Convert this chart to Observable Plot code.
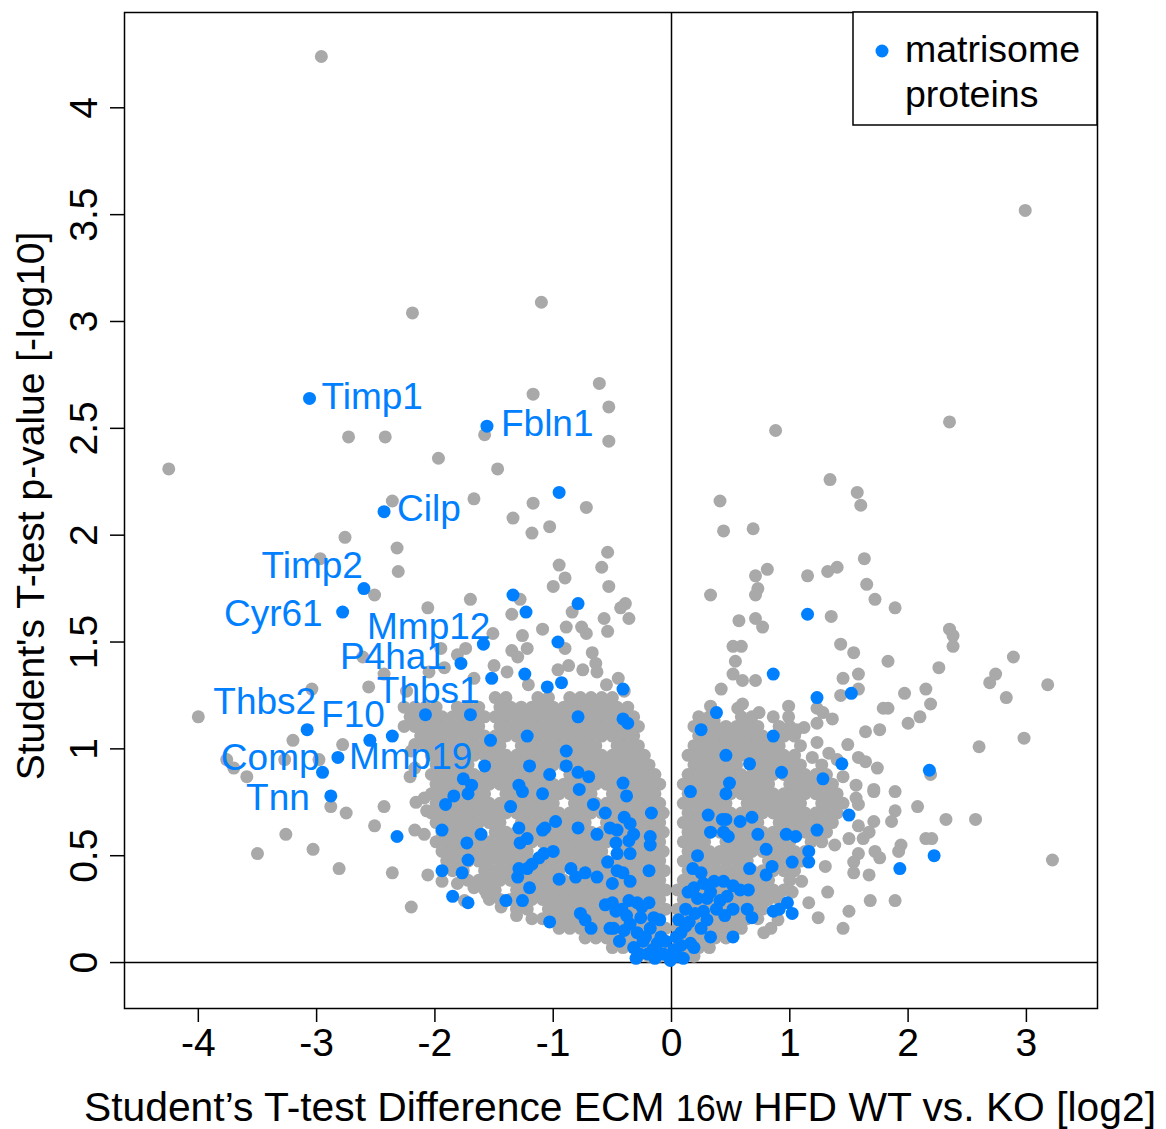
<!DOCTYPE html>
<html>
<head>
<meta charset="utf-8">
<script src="https://cdn.jsdelivr.net/npm/d3@7"></script>
<script src="https://cdn.jsdelivr.net/npm/@observablehq/plot@0.6"></script>
<style>
  html, body { margin: 0; padding: 0; background: #fff; }
  #chart svg { display: block; }
</style>
</head>
<body>
<div id="chart"></div>
<script>
// ---- Volcano plot data: [difference (log2), -log10 p-value] ----

// Isolated proteins outside the two dense clouds
const greyScatter = [
  [-2.96,4.24],[-1.10,3.09],[-2.19,3.04],[2.99,3.52],[2.35,2.53],[0.88,2.49],[-4.25,2.31],
  [-2.73,2.46],[-2.42,2.46],[-1.97,2.36],[-1.17,2.66],[-0.61,2.71],[-0.53,2.60],[-0.53,2.44],
  [-1.58,2.47],[-1.47,2.31],[-1.67,2.17],[-2.36,2.16],[-1.17,2.15],[-0.72,2.13],[-1.34,2.08],
  [-1.03,2.04],[-1.18,2.01],[-2.76,1.99],[-2.32,1.94],[-2.31,1.83],[-2.97,1.89],[-2.51,1.72],
  [-2.06,1.66],[-1.70,1.70],[-0.54,1.92],[-0.95,1.86],[-0.59,1.85],[-0.90,1.80],[-1.00,1.76],
  [-0.53,1.76],[-1.28,1.70],[-1.35,1.63],[-0.84,1.64],[-0.39,1.68],[-0.43,1.66],[-0.36,1.61],
  [-0.57,1.61],[-0.54,1.55],[-1.09,1.56],[-0.89,1.57],[-0.76,1.57],[-0.72,1.54],[-1.51,1.54],
  [-1.26,1.53],[-0.90,1.47],[-0.67,1.45],[-1.35,1.46],[-1.22,1.47],[-1.30,1.43],[-1.74,1.47],
  [-1.81,1.44],[-1.95,1.47],[-1.50,1.39],[-1.39,1.36],[-0.96,1.37],[-0.87,1.39],[-0.75,1.37],
  [-0.64,1.40],[-0.63,1.36],[-0.45,1.33],[-2.61,1.43],[-2.43,1.35],[-2.05,1.36],[-1.92,1.38],
  [-1.67,1.33],[-1.21,1.30],[-0.55,1.30],[-0.40,1.27],[-2.24,1.27],
  [-3.04,1.28],[-2.56,1.29],[-4.00,1.15],[-3.20,1.04],[-3.76,0.95],[-3.70,0.91],[-3.59,0.87],
  [-3.27,0.95],[-2.98,0.95],[-2.78,1.02],[-2.88,0.73],[-2.75,0.70],[-2.43,0.73],[-2.51,0.64],
  [-3.26,0.60],[-3.50,0.51],[-3.03,0.53],[-2.81,0.44],[-2.36,0.42],[-2.20,0.26],[-2.06,0.41],
  [-2.16,0.75],[-2.21,0.87],[-2.17,1.02],[-2.20,0.99],[-2.17,0.91],[-2.09,0.77],
  [-2.07,0.71],[-2.17,0.62],[-2.09,0.60],[-1.94,0.38],[-1.81,0.37],
  [-1.67,0.35],[-1.56,0.32],[-1.75,0.29],[-1.31,0.22],[-1.44,0.26],
  [0.41,2.16],[0.44,2.02],[0.69,2.03],[1.34,2.26],[1.57,2.20],[1.60,2.14],[1.63,1.89],
  [0.81,1.84],[0.71,1.81],[0.73,1.75],[0.71,1.72],[1.15,1.81],[1.32,1.83],[1.40,1.85],
  [1.65,1.77],[1.72,1.70],[1.89,1.66],[0.33,1.72],[1.35,1.62],[0.57,1.60],[0.71,1.61],
  [0.77,1.57],[0.52,1.48],[0.59,1.48],[0.54,1.41],[1.43,1.49],[1.54,1.45],[1.83,1.41],
  [2.26,1.38],[2.35,1.56],[2.38,1.53],[2.38,1.48],[0.52,1.35],[0.60,1.32],[0.71,1.32],
  [0.42,1.28],[1.45,1.33],[1.58,1.35],[1.58,1.28],[1.43,1.25],[1.97,1.26],[2.15,1.28],
  [2.89,1.43],[2.74,1.35],[2.69,1.31],[3.18,1.30],[2.83,1.24],[2.19,1.21],[1.83,1.19],
  [1.79,1.19],[2.10,1.15],[2.00,1.12],[1.76,1.09],[1.64,1.08],[1.49,1.02],[2.60,1.01],
  [2.98,1.05],[1.58,0.96],[1.64,0.94],[1.74,0.91],[2.19,0.88],[1.45,0.87],[1.56,0.83],
  [1.71,0.81],[1.71,0.80],[1.89,0.80],[1.56,0.77],[1.58,0.74],[2.08,0.73],[1.89,0.71],
  [1.86,0.66],[1.71,0.66],[1.67,0.61],[2.32,0.67],[2.57,0.67],[1.58,0.64],[1.50,0.58],
  [1.62,0.58],[2.15,0.58],[2.20,0.58],[1.94,0.55],[1.92,0.52],[1.72,0.52],[1.76,0.49],
  [1.58,0.51],[1.54,0.47],[3.22,0.48],[1.54,0.42],[1.67,0.41],[1.38,0.55],[1.30,0.45],
  [1.50,0.24],[1.68,0.29],[1.89,0.29],[1.32,0.33],[1.24,0.21],[1.45,0.16],[1.16,0.28],
  [0.84,0.16],[0.78,0.14],[0.99,1.20],[0.99,1.15],[1.23,1.19],[1.28,1.17],[1.36,1.14],
  [1.23,1.12],[1.12,1.10],[1.06,1.09],[1.01,1.07],[0.60,1.21],[0.56,1.19],[0.74,1.17],
  [0.33,1.20],[0.36,1.13],[1.40,0.95],[1.33,0.98],[1.23,1.03],[1.19,0.96],[1.10,0.38],
  [1.02,0.33],[0.90,0.20]
];

// Dense cloud left of zero: [-log10 p, differences at that level]
const leftCloudRows = [
  [1.240, [-1.49,-1.40,-1.13,-1.04,-0.86,-0.77,-0.68,-0.59,-0.50]],
  [1.195, [-2.26,-2.17,-2.08,-1.99,-1.81,-1.72,-1.63,-1.45,-1.36,-1.27,-1.18,-1.09,-1.00,-0.91,-0.82,-0.73,-0.64,-0.55,-0.46,-0.37]],
  [1.150, [-2.21,-2.12,-2.03,-1.94,-1.85,-1.76,-1.67,-1.58,-1.49,-1.40,-1.31,-1.22,-1.13,-1.04,-0.95,-0.86,-0.77,-0.68,-0.59,-0.50,-0.41,-0.32]],
  [1.105, [-2.26,-2.17,-2.08,-1.99,-1.90,-1.81,-1.72,-1.63,-1.45,-1.36,-1.27,-1.18,-1.09,-1.00,-0.91,-0.82,-0.73,-0.64,-0.55,-0.46,-0.37,-0.28]],
  [1.060, [-2.12,-2.03,-1.94,-1.85,-1.76,-1.67,-1.58,-1.49,-1.40,-1.31,-1.22,-1.13,-1.04,-0.95,-0.86,-0.77,-0.68,-0.59,-0.50,-0.41,-0.32]],
  [1.015, [-2.08,-1.99,-1.90,-1.81,-1.72,-1.63,-1.54,-1.45,-1.27,-1.18,-1.09,-1.00,-0.91,-0.82,-0.73,-0.64,-0.46,-0.37,-0.28]],
  [0.970, [-2.03,-1.94,-1.85,-1.76,-1.67,-1.58,-1.49,-1.40,-1.31,-1.22,-1.13,-1.04,-0.95,-0.86,-0.77,-0.68,-0.59,-0.50,-0.41,-0.32,-0.23]],
  [0.925, [-1.99,-1.90,-1.81,-1.72,-1.54,-1.45,-1.36,-1.27,-1.18,-1.09,-1.00,-0.91,-0.82,-0.73,-0.64,-0.55,-0.46,-0.37,-0.28,-0.19]],
  [0.880, [-2.03,-1.94,-1.85,-1.76,-1.67,-1.58,-1.49,-1.40,-1.31,-1.22,-1.13,-1.04,-0.86,-0.77,-0.68,-0.59,-0.50,-0.41,-0.32,-0.23,-0.14]],
  [0.835, [-1.99,-1.90,-1.81,-1.72,-1.63,-1.54,-1.45,-1.36,-1.27,-1.18,-1.09,-1.00,-0.91,-0.82,-0.73,-0.64,-0.55,-0.46,-0.37,-0.28,-0.19,-0.10]],
  [0.790, [-2.03,-1.94,-1.85,-1.76,-1.67,-1.58,-1.40,-1.31,-1.22,-1.13,-1.04,-0.95,-0.86,-0.77,-0.68,-0.50,-0.41,-0.32,-0.23,-0.14]],
  [0.745, [-1.99,-1.90,-1.81,-1.72,-1.63,-1.54,-1.45,-1.36,-1.27,-1.18,-1.09,-1.00,-0.82,-0.73,-0.64,-0.55,-0.46,-0.37,-0.28,-0.19,-0.10]],
  [0.700, [-2.03,-1.94,-1.85,-1.76,-1.67,-1.58,-1.49,-1.40,-1.31,-1.22,-1.13,-1.04,-0.95,-0.86,-0.77,-0.68,-0.59,-0.50,-0.41,-0.32,-0.23,-0.14,-0.07]],
  [0.655, [-1.99,-1.90,-1.81,-1.72,-1.63,-1.54,-1.45,-1.27,-1.18,-1.09,-1.00,-0.91,-0.82,-0.73,-0.55,-0.46,-0.37,-0.28,-0.19,-0.10]],
  [0.610, [-1.94,-1.85,-1.76,-1.67,-1.49,-1.40,-1.31,-1.22,-1.13,-1.04,-0.95,-0.86,-0.77,-0.68,-0.59,-0.50,-0.41,-0.32,-0.23,-0.14,-0.07]],
  [0.565, [-1.99,-1.90,-1.81,-1.72,-1.63,-1.54,-1.45,-1.36,-1.27,-1.18,-1.09,-1.00,-0.91,-0.82,-0.73,-0.64,-0.55,-0.46,-0.37,-0.28,-0.19,-0.10]],
  [0.520, [-1.94,-1.85,-1.76,-1.67,-1.58,-1.49,-1.40,-1.31,-1.22,-1.04,-0.95,-0.86,-0.77,-0.68,-0.59,-0.41,-0.32,-0.23,-0.14,-0.07]],
  [0.475, [-1.90,-1.81,-1.72,-1.63,-1.54,-1.45,-1.36,-1.27,-1.18,-1.09,-1.00,-0.91,-0.82,-0.73,-0.64,-0.55,-0.46,-0.37,-0.28,-0.19,-0.10]],
  [0.430, [-1.85,-1.76,-1.58,-1.49,-1.40,-1.31,-1.22,-1.13,-1.04,-0.95,-0.77,-0.68,-0.59,-0.50,-0.41,-0.32,-0.23,-0.14,-0.06]],
  [0.385, [-1.72,-1.63,-1.54,-1.45,-1.36,-1.27,-1.18,-1.09,-1.00,-0.91,-0.82,-0.73,-0.64,-0.55,-0.46,-0.37,-0.28,-0.19,-0.10]],
  [0.340, [-1.58,-1.49,-1.31,-1.22,-1.13,-1.04,-0.95,-0.86,-0.77,-0.68,-0.59,-0.50,-0.41,-0.32,-0.23,-0.14,-0.05]],
  [0.295, [-1.54,-1.45,-1.36,-1.27,-1.18,-1.09,-1.00,-0.91,-0.82,-0.73,-0.64,-0.55,-0.46,-0.37,-0.28,-0.19,-0.10]],
  [0.250, [-1.31,-1.22,-1.04,-0.95,-0.86,-0.77,-0.68,-0.59,-0.50,-0.41,-0.32,-0.23,-0.14,-0.05]],
  [0.205, [-1.18,-1.09,-1.00,-0.91,-0.82,-0.73,-0.64,-0.55,-0.46,-0.37,-0.28,-0.19,-0.10]],
  [0.160, [-0.95,-0.86,-0.77,-0.68,-0.59,-0.50,-0.41,-0.32,-0.23,-0.14,-0.05]],
  [0.115, [-0.73,-0.64,-0.55,-0.46,-0.37,-0.28,-0.19,-0.10]],
  [0.070, [-0.50,-0.41,-0.32,-0.23,-0.14,-0.05]],
  [0.030, [-0.28,-0.19,-0.10,-0.03]]
];

// Dense cloud right of zero
const rightCloudRows = [
  [1.150, [0.23,0.32,0.59,0.68,0.86]],
  [1.105, [0.19,0.28,0.37,0.46,0.55,0.64,0.73,0.91,1.00]],
  [1.060, [0.23,0.32,0.41,0.50,0.59,0.68,0.77,0.95,1.04]],
  [1.015, [0.19,0.28,0.37,0.46,0.55,0.64,0.73,0.82,0.91,1.09]],
  [0.970, [0.14,0.23,0.32,0.41,0.50,0.59,0.68,0.77,0.86,0.95,1.04]],
  [0.925, [0.19,0.28,0.37,0.46,0.55,0.73,0.82,0.91,1.00,1.09,1.27]],
  [0.880, [0.14,0.23,0.32,0.41,0.50,0.59,0.68,0.77,0.86,0.95,1.04,1.13,1.22,1.31]],
  [0.835, [0.10,0.19,0.28,0.37,0.46,0.55,0.64,0.73,0.82,1.00,1.09,1.18,1.27,1.36]],
  [0.790, [0.14,0.23,0.32,0.41,0.50,0.59,0.68,0.77,0.86,0.95,1.04,1.13,1.22,1.31,1.40]],
  [0.745, [0.10,0.19,0.28,0.37,0.46,0.64,0.73,0.82,0.91,1.00,1.09,1.27,1.36,1.45]],
  [0.700, [0.14,0.23,0.32,0.41,0.50,0.59,0.68,0.77,0.86,0.95,1.04,1.13,1.22,1.31,1.40]],
  [0.655, [0.10,0.19,0.28,0.37,0.46,0.55,0.64,0.73,0.91,1.00,1.09,1.18,1.27,1.36]],
  [0.610, [0.14,0.23,0.32,0.41,0.50,0.59,0.68,0.77,0.86,0.95,1.04,1.13,1.22,1.31]],
  [0.565, [0.10,0.19,0.28,0.46,0.55,0.64,0.73,0.82,0.91,1.00,1.18,1.27]],
  [0.520, [0.14,0.23,0.32,0.41,0.50,0.59,0.68,0.77,0.86,0.95,1.04,1.13]],
  [0.475, [0.10,0.19,0.28,0.37,0.46,0.55,0.64,0.82,0.91,1.00,1.09]],
  [0.430, [0.14,0.23,0.32,0.41,0.50,0.59,0.68,0.77,0.86,0.95,1.04]],
  [0.385, [0.10,0.19,0.28,0.37,0.46,0.55,0.64,0.73,0.82,1.00]],
  [0.340, [0.05,0.14,0.23,0.32,0.41,0.50,0.59,0.68,0.77,0.86,0.95]],
  [0.295, [0.10,0.19,0.28,0.37,0.46,0.55,0.64,0.73,0.82,0.91]],
  [0.250, [0.05,0.14,0.23,0.32,0.41,0.50,0.59,0.68,0.77]],
  [0.205, [0.10,0.19,0.28,0.37,0.46,0.55,0.64,0.73]],
  [0.160, [0.05,0.14,0.23,0.32,0.41,0.50,0.59]],
  [0.115, [0.10,0.19,0.28,0.37,0.46]],
  [0.070, [0.05,0.14,0.23,0.32]],
  [0.030, [0.03,0.10,0.19]]
];

// Matrisome proteins (unlabelled)
const matrisome = [
  [-0.95,2.20],[-1.34,1.72],[-1.23,1.64],[-0.79,1.68],[-0.96,1.50],[-1.24,1.35],[-0.93,1.31],
  [-1.05,1.29],[-0.41,1.28],[-2.36,1.06],[-2.08,1.16],[-1.70,1.16],[-0.79,1.15],[-0.41,1.14],
  [-0.37,1.12],[-1.53,1.04],[-1.22,1.06],[-0.89,0.99],[-0.89,0.92],[-1.20,0.92],[-1.58,0.92],
  [-0.79,0.89],[-0.70,0.87],[-1.03,0.88],[-1.76,0.86],[-1.69,0.83],[-1.72,0.79],[-1.29,0.83],
  [-1.26,0.80],[-1.09,0.79],[-0.78,0.81],[-0.41,0.84],[-0.38,0.78],[-1.84,0.78],[-1.91,0.74],
  [-1.36,0.73],[-0.66,0.74],[-0.56,0.70],[-0.17,0.70],[-0.98,0.66],[-1.07,0.63],[-1.09,0.62],
  [-0.79,0.63],[-0.40,0.68],[-0.35,0.65],[-0.32,0.60],[-0.36,0.57],[-0.52,0.63],[-0.46,0.62],
  [-0.63,0.60],[-0.18,0.59],[-0.18,0.55],[-1.29,0.63],[-1.22,0.58],[-1.28,0.56],[-1.61,0.60],
  [-1.94,0.62],[-1.73,0.56],[-1.72,0.48],[-1.94,0.43],[-1.77,0.42],[-0.47,0.56],[-1.00,0.52],
  [-1.08,0.51],[-1.12,0.49],[-1.18,0.46],[-1.22,0.44],[-1.29,0.44],[-1.30,0.40],[-0.85,0.44],
  [-0.81,0.40],[-0.73,0.42],[-0.63,0.40],[-0.54,0.47],[-0.46,0.51],[-0.46,0.43],[-0.41,0.42],
  [-0.35,0.51],[-0.35,0.38],[-0.50,0.37],[-0.19,0.43],[-0.95,0.39],[-1.20,0.35],[-1.26,0.29],
  [-1.40,0.29],[-1.85,0.31],[-1.72,0.28],[-2.32,0.59],[-1.03,0.19],[-0.77,0.23],[-0.73,0.20],
  [-0.68,0.16],[-0.56,0.27],[-0.50,0.28],[-0.47,0.24],[-0.52,0.16],[-0.49,0.16],[-0.36,0.29],
  [-0.29,0.28],[-0.19,0.28],[-0.35,0.18],[-0.29,0.14],[-0.24,0.10],[-0.18,0.16],[-0.12,0.09],
  [-0.07,0.04],[-0.01,0.01],[-0.32,0.07],[-0.20,0.04],[-0.09,0.12],[-0.15,0.21],[-0.26,0.21],
  [-0.40,0.15],[-0.44,0.10],[-0.30,0.02],[-0.14,0.02],[-0.38,0.22],[-0.42,0.25],[-0.25,0.26],
  [-0.10,0.20],[-0.05,0.10],[-0.22,0.12],[-0.16,0.06],[-0.27,0.04],
  [0.38,1.17],[0.25,1.09],[1.23,1.24],[1.52,1.26],[0.86,1.06],[0.46,0.97],[0.66,0.93],
  [0.93,0.89],[1.44,0.93],[1.28,0.86],[2.18,0.90],[0.16,0.80],[0.49,0.84],[0.46,0.79],
  [0.31,0.69],[0.43,0.67],[0.46,0.67],[0.58,0.66],[0.68,0.68],[0.33,0.61],[0.44,0.61],
  [0.48,0.59],[0.73,0.60],[0.97,0.60],[1.05,0.59],[1.23,0.62],[1.50,0.69],[0.80,0.53],
  [0.22,0.50],[1.16,0.52],[1.16,0.47],[1.02,0.47],[0.85,0.45],[0.80,0.41],[0.66,0.44],
  [1.93,0.44],[2.22,0.50],[0.18,0.44],[0.25,0.42],[0.19,0.35],[0.27,0.37],[0.36,0.38],
  [0.44,0.38],[0.52,0.36],[0.58,0.34],[0.65,0.34],[0.22,0.30],[0.30,0.30],[0.41,0.29],
  [0.52,0.25],[0.12,0.25],[0.20,0.23],[0.27,0.24],[0.64,0.25],[0.68,0.21],[0.86,0.24],
  [0.91,0.25],[0.98,0.28],[1.02,0.23],[0.33,0.12],[0.52,0.12],[0.08,0.14],[0.16,0.09],
  [0.19,0.07],[0.25,0.16],[0.30,0.20],[0.05,0.03],[0.08,0.08],[0.04,0.12],[0.12,0.17],
  [1.15,1.63],[0.86,1.35],[0.14,0.33],[0.33,0.33],[0.47,0.31],[0.38,0.25],[0.45,0.22],
  [0.15,0.19],[0.02,0.06],[0.10,0.02],[0.06,0.20]
];

// Labelled matrisome proteins
const labelNames = ["Timp1","Fbln1","Cilp","Timp2","Cyr61","Mmp12","P4ha1","Thbs1","Thbs2","F10","Comp","Mmp19","Tnn"];
const labelDiff  = [-3.06, -1.56, -2.43, -2.60, -2.78, -1.59, -1.78, -1.52, -3.08, -2.55, -2.95, -2.82, -2.88];
const labelLogP  = [ 2.64,  2.51,  2.11,  1.75,  1.64,  1.49,  1.40,  1.33,  1.09,  1.04,  0.89,  0.96,  0.78];

const xTicks = [-4, -3, -2, -1, 0, 1, 2, 3];
const yTicks = [0, 0.5, 1, 1.5, 2, 2.5, 3, 3.5, 4];

// ---- Styling ----
const GREY = "#A9A9A9";
const BLUE = "#0080FF";
const FONT = "'Liberation Sans', Arial, Helvetica, sans-serif";
const R = 6.5;

// text anchor and pixel offset of each label relative to its dot
const labelPlacement = {
  Timp1: ["start", 12, -1],
  Fbln1: ["start", 14, -2],
  Cilp:  ["start", 13, -3],
  Timp2: ["end",  -1, -22],
  Cyr61: ["end", -20, 2],
  Mmp12: ["end",   7, -17],
  P4ha1: ["end", -14, -6],
  Thbs1: ["end", -12, 13],
  Thbs2: ["end",   9, -27],
  F10:   ["end",  15, -25],
  Comp:  ["end",  -3, -14],
  Mmp19: ["start", 11, 0],
  Tnn:   ["end", -21, 2]
};

// ---- Tables ----
const toRow = ([diff, logp]) => ({diff, logp});
const cloud = [...leftCloudRows, ...rightCloudRows]
  .flatMap(([logp, diffs]) => diffs.map(diff => ({diff, logp})));
const greyData = [...greyScatter.map(toRow), ...cloud];
const labelled = labelNames.map((name, i) => ({name, diff: labelDiff[i], logp: labelLogP[i]}));
const blueData = [...matrisome.map(toRow), ...labelled];

const labelMarks = labelled.map(d => {
  const [anchor, dx, dy] = labelPlacement[d.name];
  return Plot.text([d], {
    x: "diff", y: "logp", text: "name",
    textAnchor: anchor, dx, dy,
    fill: BLUE, fontSize: 37
  });
});

const chart = Plot.plot({
  width: 1166,
  height: 1129,
  marginLeft: 124,
  marginRight: 69,
  marginTop: 12,
  marginBottom: 121,
  style: {fontFamily: FONT, fontSize: "39px", background: "white", color: "black"},
  x: {domain: [-4.624, 3.601]},
  y: {domain: [-0.215, 4.446]},
  marks: [
    Plot.ruleX([0], {stroke: "black", strokeWidth: 1.5}),
    Plot.ruleY([0], {stroke: "black", strokeWidth: 1.5}),
    Plot.dot(greyData, {x: "diff", y: "logp", r: R, fill: GREY}),
    Plot.dot(blueData, {x: "diff", y: "logp", r: R, fill: BLUE}),
    ...labelMarks,
    Plot.frame({stroke: "black", strokeWidth: 1.5}),
    Plot.axisX({ticks: xTicks, tickSize: 14, tickPadding: 6, strokeWidth: 1.5,
                tickFormat: d => String(d), label: null}),
    Plot.axisY({ticks: yTicks, tickSize: 14, strokeWidth: 1.5,
                tickFormat: () => "", label: null}),
    Plot.text(yTicks, {y: d => d, text: d => String(d), frameAnchor: "left",
                       textAnchor: "middle", dx: -40, rotate: -90, fill: "black"})
  ]
});

// ---- Axis titles and legend ----
const svg = d3.select(chart);

const xTitle = svg.append("text")
  .attr("x", 620).attr("y", 1121)
  .attr("text-anchor", "middle")
  .attr("font-size", 40.8)
  .attr("fill", "black");
xTitle.append("tspan").text("Student’s T-test Difference ECM ");
xTitle.append("tspan").attr("font-size", 36).text("16w");
xTitle.append("tspan").text(" HFD WT vs. KO [log2]");

svg.append("text")
  .attr("transform", "translate(44,506) rotate(-90)")
  .attr("text-anchor", "middle")
  .attr("font-size", 39)
  .attr("fill", "black")
  .text("Student's T-test p-value [-log10]");

const legend = svg.append("g")
  .attr("font-size", 37.5).attr("fill", "black").attr("text-anchor", "start");
legend.append("rect")
  .attr("x", 853).attr("y", 12).attr("width", 244).attr("height", 113)
  .attr("fill", "white").attr("stroke", "black").attr("stroke-width", 1.5);
legend.append("circle").attr("cx", 882).attr("cy", 51).attr("r", 6.5).attr("fill", BLUE);
legend.append("text").attr("x", 905).attr("y", 62).attr("text-anchor", "start").text("matrisome");
legend.append("text").attr("x", 905).attr("y", 107).attr("text-anchor", "start").text("proteins");

document.getElementById("chart").appendChild(chart);
</script>
</body>
</html>
